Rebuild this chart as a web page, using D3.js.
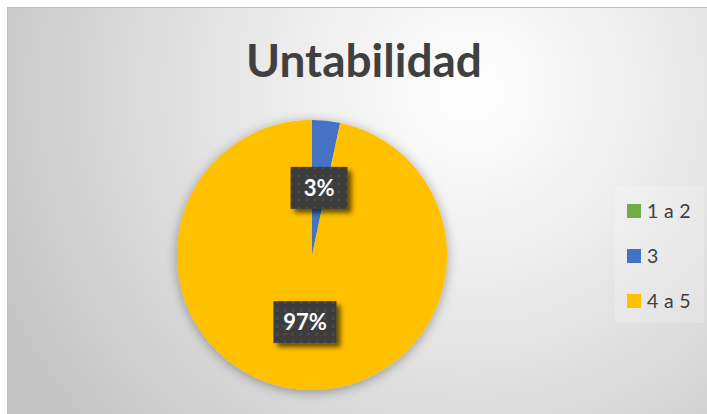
<!DOCTYPE html>
<html>
<head>
<meta charset="utf-8">
<script src="https://cdn.jsdelivr.net/npm/d3@7"></script>
<style>
  body { margin: 0; background: #fff; }
  svg { display: block; }
</style>
</head>
<body>
<div id="chart"></div>
<script>
// data
const categories = ["1 a 2", "3", "4 a 5"];
const values = [0, 1, 29];
const colors = ["#70AD47", "#4472C4", "#FFC000"];
const title = "Untabilidad";

const width = 707, height = 414;

const svg = d3.select("#chart").append("svg")
    .attr("width", width)
    .attr("height", height);

const defs = svg.append("defs");

// background gradient
const bg = defs.append("radialGradient")
    .attr("id", "bg")
    .attr("gradientUnits", "userSpaceOnUse")
    .attr("cx", 470).attr("cy", 90).attr("r", 520);
bg.append("stop").attr("offset", "0%").attr("stop-color", "#ffffff");
bg.append("stop").attr("offset", "35%").attr("stop-color", "#ededed");
bg.append("stop").attr("offset", "100%").attr("stop-color", "#c4c4c4");

// pie shadow
const sh = defs.append("filter").attr("id", "pieShadow")
    .attr("x", "-20%").attr("y", "-20%").attr("width", "140%").attr("height", "140%");
sh.append("feGaussianBlur").attr("in", "SourceAlpha").attr("stdDeviation", 6);
sh.append("feOffset").attr("dx", 0).attr("dy", 2).attr("result", "b");
sh.append("feComponentTransfer").append("feFuncA").attr("type", "linear").attr("slope", 0.35);
const shm = sh.append("feMerge");
shm.append("feMergeNode");
shm.append("feMergeNode").attr("in", "SourceGraphic");

// label shadow
const ls = defs.append("filter").attr("id", "lblShadow")
    .attr("x", "-30%").attr("y", "-30%").attr("width", "160%").attr("height", "160%");
ls.append("feGaussianBlur").attr("in", "SourceAlpha").attr("stdDeviation", 2.5);
ls.append("feOffset").attr("dx", 4).attr("dy", 4).attr("result", "b");
ls.append("feComponentTransfer").append("feFuncA").attr("type", "linear").attr("slope", 0.6);
const lsm = ls.append("feMerge");
lsm.append("feMergeNode");
lsm.append("feMergeNode").attr("in", "SourceGraphic");

// dotted pattern for labels
const pat = defs.append("pattern").attr("id", "dots")
    .attr("patternUnits", "userSpaceOnUse").attr("width", 8).attr("height", 8);
pat.append("rect").attr("width", 8).attr("height", 8).attr("fill", "#3d3d3d");
pat.append("circle").attr("cx", 4).attr("cy", 4).attr("r", 1.6).attr("fill", "#4c4c4c");

// chart area
svg.append("rect")
    .attr("x", 7.5).attr("y", 7.5)
    .attr("width", width - 7).attr("height", height - 7)
    .attr("fill", "url(#bg)")
    .attr("stroke", "#bfbfbf");

svg.append("text")
    .attr("x", 364).attr("y", 77)
    .attr("text-anchor", "middle")
    .attr("font-family", "Lato, 'Open Sans', sans-serif")
    .attr("font-weight", 700)
    .attr("font-size", 46)
    .attr("fill", "#404040")
    .text(title);

// pie
const cx = 312, cy = 255, R = 135;
const total = d3.sum(values);
const pie = d3.pie().sort(null).value(d => d)(values);
const arc = d3.arc().innerRadius(0).outerRadius(R);

const g = svg.append("g").attr("transform", `translate(${cx},${cy})`);
g.append("g").attr("filter", "url(#pieShadow)")
    .selectAll("path")
    .data(pie.filter(d => d.value > 0))
    .join("path")
    .attr("d", arc)
    .attr("fill", d => colors[d.index]);

const fmt = d3.format(".0%");
const labels = g.selectAll("g.lbl")
    .data(pie.filter(d => d.value > 0))
    .join("g")
    .attr("class", "lbl")
    .attr("transform", d => `translate(${arc.centroid(d)})`);

labels.each(function(d) {
    const t = fmt(d.value / total);
    const w = t.length > 2 ? 63 : 57, h = 42;
    const sel = d3.select(this);
    sel.append("rect")
        .attr("x", -w / 2).attr("y", -h / 2)
        .attr("width", w).attr("height", h)
        .attr("fill", "url(#dots)")
        .attr("filter", "url(#lblShadow)");
    sel.append("text")
        .attr("text-anchor", "middle")
        .attr("dy", "0.36em")
        .attr("font-family", "Lato, 'Open Sans', sans-serif")
        .attr("font-weight", 700)
        .attr("font-size", 22)
        .attr("fill", "#ffffff")
        .text(t);
});

// legend
svg.append("rect")
    .attr("x", 615).attr("y", 186)
    .attr("width", 89).attr("height", 137)
    .attr("fill", "#ffffff").attr("fill-opacity", 0.2);

const leg = svg.append("g").selectAll("g")
    .data(categories)
    .join("g")
    .attr("transform", (d, i) => `translate(627,${211 + i * 45})`);
leg.append("rect")
    .attr("x", 0).attr("y", -7)
    .attr("width", 14).attr("height", 14)
    .attr("fill", (d, i) => colors[i]);
leg.append("text")
    .attr("x", 20).attr("dy", "0.36em")
    .attr("font-family", "Lato, 'Open Sans', sans-serif")
    .attr("font-size", 19.5)
    .attr("letter-spacing", 0.3)
    .attr("fill", "#404040")
    .text(d => d);
</script>
</body>
</html>
